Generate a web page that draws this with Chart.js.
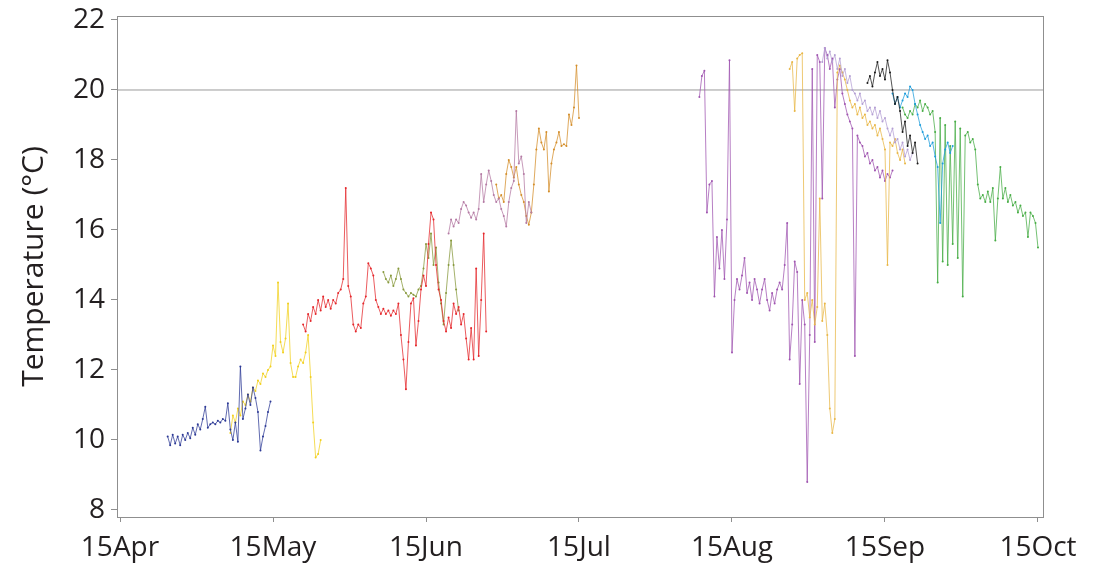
<!DOCTYPE html>
<html>
<head>
<meta charset="utf-8">
<title>Temperature</title>
<script src="https://cdn.jsdelivr.net/npm/chart.js@4.4.1/dist/chart.umd.min.js"></script>
<style>
  body { margin: 0; background: #fff; }
  #wrap { width: 1099px; height: 563px; position: relative; }
</style>
</head>
<body>
<div id="wrap"><canvas id="tempChart"></canvas></div>
<script>
// x = days since 15 Apr, readings every half day
const monthTicks = [0, 30.5, 61, 91.5, 122, 152.5, 183];
const monthLabels = ['15Apr', '15May', '15Jun', '15Jul', '15Aug', '15Sep', '15Oct'];
const tempTicks = [8, 10, 12, 14, 16, 18, 20, 22];
const refTemp = 20;
const step = 0.5;

const navyStart = 9.5;
const navy = [10.1, 9.85, 10.15, 9.9, 10.1, 9.85, 10.15, 10.0, 10.2, 10.05, 10.35, 10.15, 10.45, 10.3, 10.6, 10.95, 10.35, 10.45, 10.5, 10.45, 10.55, 10.5, 10.6, 10.55, 11.05, 10.3, 10.0, 10.5, 9.95, 12.1, 10.6, 10.9, 11.3, 11.0, 11.5, 11.2, 10.8, 9.7, 10.1, 10.4, 10.8, 11.1];

const yellowStart = 22;
const yellow = [10.2, 10.7, 10.5, 10.9, 10.7, 11.1, 11.0, 11.3, 11.1, 11.5, 11.4, 11.7, 11.6, 11.9, 11.8, 12.0, 12.1, 12.7, 12.4, 14.5, 12.8, 12.5, 12.9, 13.9, 12.2, 11.8, 11.8, 12.1, 12.3, 12.2, 12.5, 13.0, 11.8, 10.5, 9.5, 9.6, 10.0];

const redStart = 36.5;
const red = [13.3, 13.1, 13.6, 13.4, 13.8, 13.6, 14.0, 13.7, 14.1, 13.8, 14.0, 13.75, 14.0, 13.9, 14.2, 14.3, 14.6, 17.2, 14.4, 14.1, 13.3, 13.1, 13.3, 13.2, 13.9, 14.1, 15.05, 14.9, 14.7, 14.0, 13.8, 13.6, 13.75, 13.6, 13.7, 13.55, 13.7, 13.6, 13.9, 13.0, 12.3, 11.45, 12.8, 13.9, 14.05, 12.7, 13.4, 14.3, 14.7, 14.4, 15.6, 16.5, 16.3, 15.0, 14.3, 14.0, 13.4, 13.1, 13.5, 13.2, 13.9, 13.6, 13.8, 13.3, 13.6, 12.9, 12.3, 13.2, 12.3, 14.9, 12.4, 14.0, 15.9, 13.1];

const oliveStart = 52.5;
const olive = [14.8, 14.6, 14.5, 14.7, 14.4, 14.6, 14.9, 14.6, 14.3, 14.2, 14.1, 14.2, 14.15, 14.1, 14.3, 14.4, 14.9, 15.6, 15.2, 15.9, 15.0, 15.5, 14.5, 13.9, 13.3, 14.2, 15.0, 15.7, 15.0, 14.3, 13.7];

const mauveStart = 65.5;
const mauve = [15.9, 16.3, 16.1, 16.3, 16.2, 16.6, 16.8, 16.7, 16.5, 16.35, 16.5, 16.3, 16.6, 17.6, 16.8, 17.3, 17.7, 17.4, 17.0, 16.8, 16.9, 16.6, 16.4, 16.1, 16.8, 17.2, 17.4, 19.4, 17.9, 18.1, 17.6, 16.2, 16.8, 16.5];

const ochreStart = 75;
const ochre = [17.3, 16.9, 17.0, 16.8, 17.6, 18.0, 17.8, 17.5, 17.8, 17.3, 17.0, 16.8, 16.4, 16.15, 16.5, 17.3, 18.3, 18.9, 18.5, 18.3, 18.8, 17.1, 17.9, 18.3, 18.5, 18.8, 18.4, 18.45, 18.4, 19.3, 19.0, 19.5, 20.7, 19.2];

const purpleStart = 115.5;
const purple = [19.8, 20.4, 20.55, 16.5, 17.3, 17.4, 14.1, 15.8, 14.9, 16.0, 14.6, 16.3, 20.85, 12.5, 14.0, 14.6, 14.3, 14.7, 15.2, 14.2, 14.5, 14.0, 14.6, 14.3, 13.9, 14.3, 14.6, 14.0, 13.7, 14.2, 13.9, 14.3, 14.5, 14.3, 15.0, 16.2, 12.3, 13.3, 15.1, 14.8, 11.6, 14.0, 13.3, 8.8, 13.0, 20.6, 12.8, 21.0, 20.8, 16.9, 21.2, 21.0, 20.6, 20.9, 19.5, 20.3, 20.6, 19.9, 19.6, 19.3, 19.1, 18.9, 12.4, 18.7, 18.5, 18.4, 18.1, 18.2, 17.9, 18.0, 17.7, 17.8, 17.5, 17.7, 17.4, 17.6, 17.5, 17.7];

const goldStart = 133.5;
const gold = [20.6, 20.8, 19.4, 20.9, 21.0, 21.05, 14.0, 14.2, 13.5, 14.0, 13.3, 13.8, 16.9, 13.4, 13.9, 13.0, 10.9, 10.2, 10.6, 20.5, 20.7, 20.5, 20.3, 20.0, 19.7, 19.5, 19.6, 19.3, 19.5, 19.2, 19.3, 19.0, 19.1, 18.9, 19.0, 18.7, 18.9, 18.6, 18.3, 15.0, 18.5, 18.4, 18.6, 18.2, 18.0, 18.3, 17.9];

const lavenderStart = 140;
const lavender = [20.8, 21.2, 20.9, 21.1, 20.8, 21.0, 20.6, 20.9, 20.4, 20.6, 20.2, 20.4, 20.0, 19.9, 19.7, 19.9, 19.6, 19.7, 19.4, 19.5, 19.3, 19.5, 19.2, 19.4, 19.1, 19.2, 18.9, 18.7, 18.9, 18.5, 18.6, 18.3, 18.5, 18.1, 18.3, 18.0, 18.2];

const blackStart = 149;
const black = [20.2, 20.4, 20.1, 20.5, 20.8, 20.4, 20.6, 20.3, 20.85, 20.5, 20.0, 19.6, 19.8, 19.4, 18.8, 19.1, 18.4, 18.7, 18.2, 18.5, 17.9];

const cyanStart = 154;
const cyan = [19.9, 19.6, 19.8, 19.5, 19.7, 19.9, 19.8, 20.1, 20.0, 19.6, 19.3, 19.0, 18.8, 18.6, 18.7, 18.4, 18.5, 18.1, 17.8, 16.2, 17.9, 18.3, 18.5, 18.2, 18.4];

const greenStart = 156;
const green = [19.5, 19.3, 19.2, 19.4, 19.3, 19.6, 19.5, 19.7, 19.4, 19.6, 19.5, 19.3, 19.4, 18.8, 14.5, 19.2, 15.1, 19.0, 15.0, 18.4, 15.6, 19.1, 15.2, 18.9, 14.1, 18.7, 18.8, 18.5, 18.6, 18.3, 17.3, 16.9, 17.0, 16.8, 17.1, 16.8, 17.2, 15.7, 16.9, 17.8, 16.9, 17.2, 16.8, 17.0, 16.7, 16.8, 16.5, 16.7, 16.4, 16.5, 15.8, 16.5, 16.4, 16.2, 15.5];

const xMin = -0.6;
const xMax = 184;

function toPoints(start, values) {
    return values.map((v, i) => ({ x: start + i * step, y: v }));
}

function series(label, start, values, color) {
    return {
        label: label,
        data: toPoints(start, values),
        borderColor: color + 'c0',
        backgroundColor: color,
        borderWidth: 1,
        pointRadius: 1,
        pointBorderWidth: 0,
        pointBackgroundColor: color,
        tension: 0
    };
}

const frame = {
    id: 'frame',
    afterDraw(chart) {
        const a = chart.chartArea;
        const ctx = chart.ctx;
        ctx.save();
        ctx.strokeStyle = '#8f8f8f';
        ctx.lineWidth = 1;
        ctx.strokeRect(Math.round(a.left) + 0.5, Math.round(a.top) + 0.5, Math.round(a.right - a.left), Math.round(a.bottom - a.top));
        ctx.restore();
    }
};

const tickFont = { family: '"Open Sans", sans-serif', size: 28 };

new Chart(document.getElementById('tempChart'), {
    type: 'line',
    data: {
        datasets: [
            series('navy', navyStart, navy, '#2d3a96'),
            series('yellow', yellowStart, yellow, '#f2d01e'),
            series('red', redStart, red, '#e5262a'),
            series('olive', oliveStart, olive, '#87993c'),
            series('mauve', mauveStart, mauve, '#b47aa4'),
            series('ochre', ochreStart, ochre, '#d48e2a'),
            series('black', blackStart, black, '#1a1a1a'),
            series('cyan', cyanStart, cyan, '#1d9ddb'),
            series('green', greenStart, green, '#47ad45'),
            series('lavender', lavenderStart, lavender, '#b49fd4'),
            series('gold', goldStart, gold, '#e9b747'),
            series('purple', purpleStart, purple, '#a055b0'),
            {
                label: 'ref',
                data: [{ x: xMin, y: refTemp }, { x: xMax, y: refTemp }],
                borderColor: '#9a9a9a',
                borderWidth: 1,
                pointRadius: 0
            }
        ]
    },
    options: {
        responsive: true,
        maintainAspectRatio: false,
        animation: false,
        layout: { padding: { top: 16, right: 56, left: 0, bottom: 0 } },
        plugins: {
            legend: { display: false },
            tooltip: { enabled: false }
        },
        scales: {
            x: {
                type: 'linear',
                min: xMin,
                max: xMax,
                afterBuildTicks: s => { s.ticks = monthTicks.map(v => ({ value: v })); },
                afterFit: s => { s.height = 46; s.paddingLeft = 0; s.paddingRight = 0; },
                ticks: {
                    callback: (v) => monthLabels[monthTicks.indexOf(v)],
                    font: tickFont,
                    color: '#231f20',
                    padding: 9,
                    maxRotation: 0,
                    autoSkip: false
                },
                grid: { drawOnChartArea: false, drawTicks: true, tickLength: 5, color: '#8f8f8f' },
                border: { display: true, color: '#8f8f8f' }
            },
            y: {
                min: 7.8,
                max: 22.114,
                afterBuildTicks: s => { s.ticks = tempTicks.map(v => ({ value: v })); },
                afterFit: s => { s.width = 117; s.paddingTop = 0; s.paddingBottom = 0; },
                ticks: {
                    font: tickFont,
                    color: '#231f20',
                    padding: 6
                },
                title: {
                    display: true,
                    text: 'Temperature (°C)',
                    font: { family: '"Open Sans", sans-serif', size: 30 },
                    color: '#231f20',
                    padding: { top: 16, bottom: 0 }
                },
                grid: { drawOnChartArea: false, drawTicks: true, tickLength: 6, color: '#8f8f8f' },
                border: { display: true, color: '#8f8f8f' }
            }
        }
    },
    plugins: [frame]
});
</script>
</body>
</html>
